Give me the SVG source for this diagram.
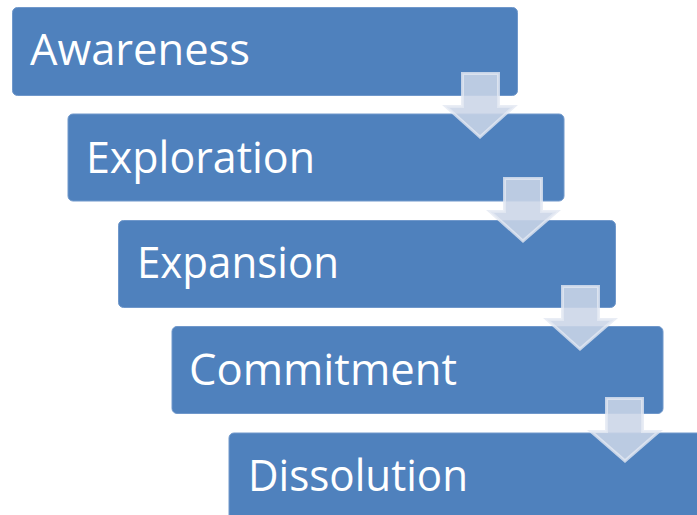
<svg xmlns="http://www.w3.org/2000/svg" width="697" height="515" viewBox="0 0 697 515">
<style>
.box{fill:#4F81BD;stroke:#7098CB;stroke-width:1}
.lbl{fill:#FFFFFF;font-family:"Open Sans","Noto Sans","Liberation Sans",sans-serif;font-size:44px}
.arr{fill:#CBD5E7;fill-opacity:0.88;stroke:#E4E9F2;stroke-opacity:0.8;stroke-width:3;stroke-linejoin:miter}
</style>
<rect width="697" height="515" fill="#FFFFFF"/>
<g id="awareness">
<rect class="box" x="12.5" y="7.5" width="505" height="88" rx="5"/>
<text class="lbl" x="30" y="65" textLength="220" lengthAdjust="spacingAndGlyphs">Awareness</text>
</g>
<g id="exploration">
<rect class="box" x="68" y="114" width="496" height="87" rx="5"/>
<text class="lbl" x="86" y="173" textLength="229" lengthAdjust="spacingAndGlyphs">Exploration</text>
</g>
<g id="expansion">
<rect class="box" x="118.5" y="220.5" width="497" height="87" rx="5"/>
<text class="lbl" x="137" y="278" textLength="202" lengthAdjust="spacingAndGlyphs">Expansion</text>
</g>
<g id="commitment">
<rect class="box" x="172" y="326.5" width="491" height="87" rx="5"/>
<text class="lbl" x="189" y="385" textLength="268" lengthAdjust="spacingAndGlyphs">Commitment</text>
</g>
<g id="dissolution">
<rect class="box" x="229" y="433" width="480" height="100" rx="5"/>
<text class="lbl" x="248" y="491" textLength="220" lengthAdjust="spacingAndGlyphs">Dissolution</text>
</g>
<g id="connectors">
<polygon class="arr" points="462.5,73.5 498.5,73.5 498.5,106.5 514,106.5 480,137 446,106.5 462.5,106.5"/>
<polygon class="arr" points="504.5,178.5 541.5,178.5 541.5,211.5 557,211.5 523,241 490,211.5 504.5,211.5"/>
<polygon class="arr" points="562.5,286.5 598.5,286.5 598.5,319.5 614,319.5 580,349 547,319.5 562.5,319.5"/>
<polygon class="arr" points="606.5,398.5 642.5,398.5 642.5,431.5 659,431.5 625,461 591,431.5 606.5,431.5"/>
</g>
</svg>
